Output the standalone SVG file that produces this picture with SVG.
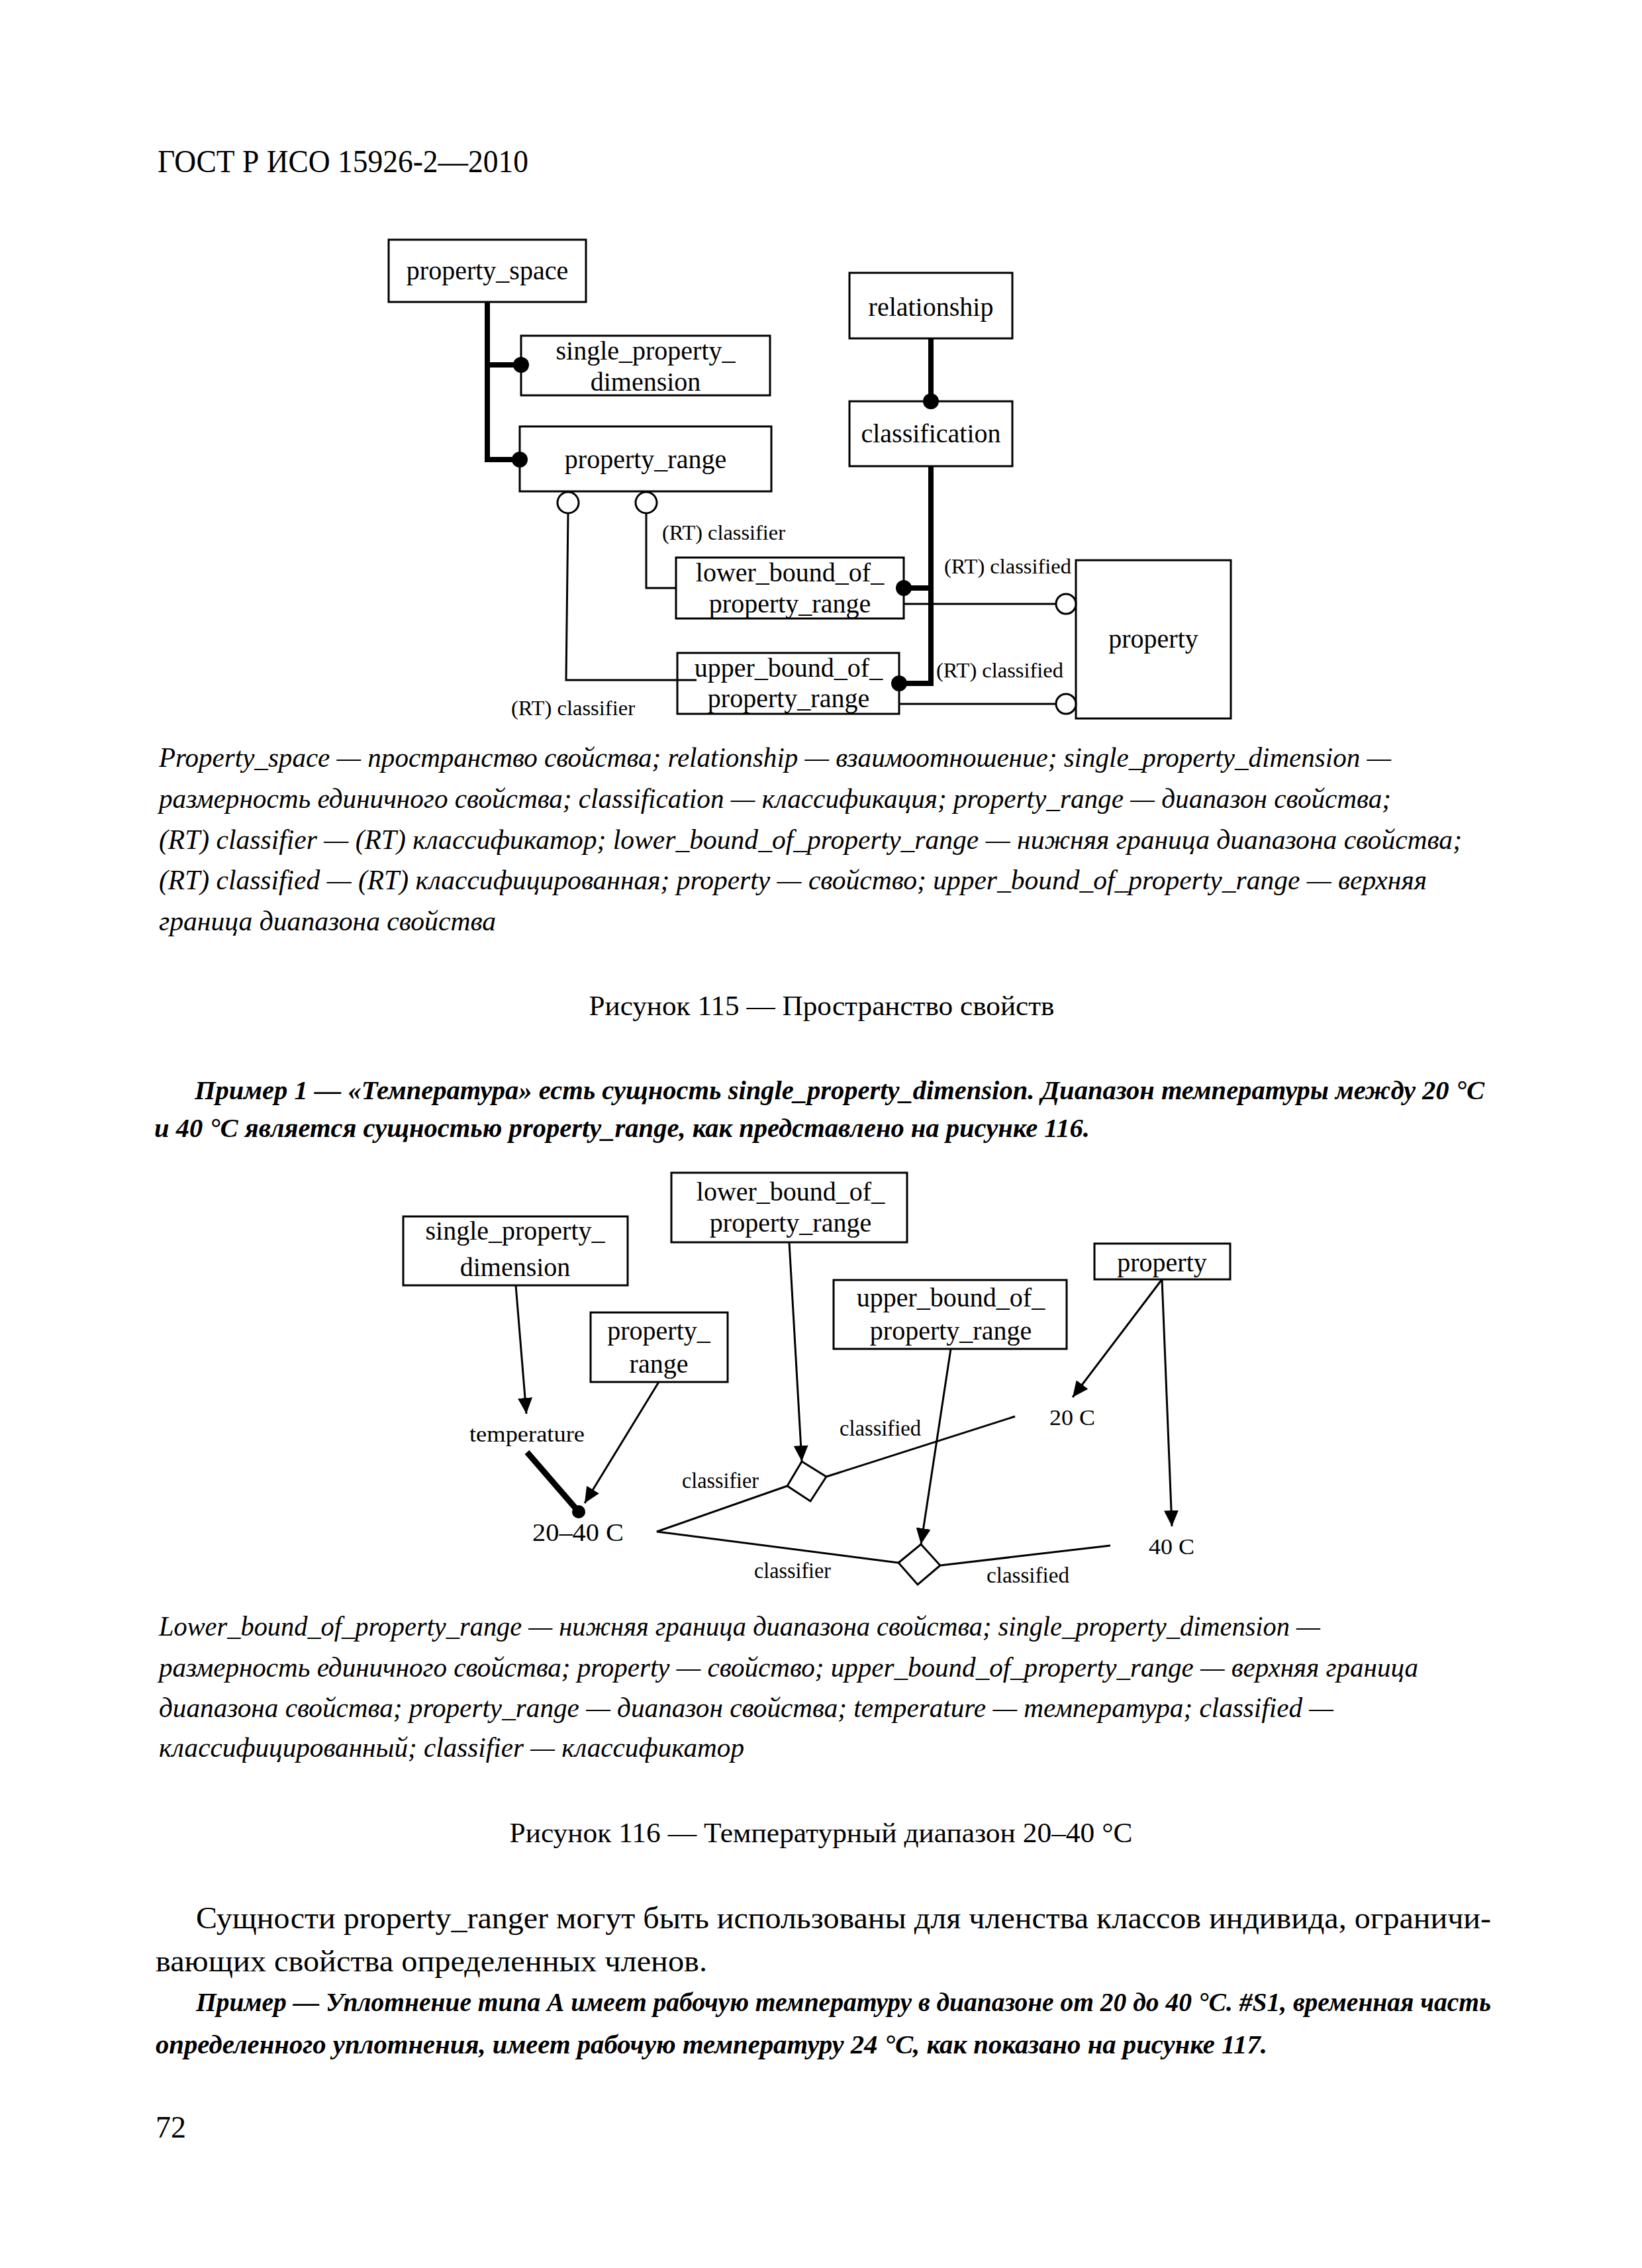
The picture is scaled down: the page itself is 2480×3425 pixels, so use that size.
<svg xmlns="http://www.w3.org/2000/svg" width="2480" height="3425" viewBox="0 0 2480 3425">
<style>
text{font-family:"Liberation Serif","Times New Roman",serif;fill:#000}
.n{font-size:40px;text-anchor:middle}
.l{font-size:32px}
.l2{font-size:34px}
.cap{font-size:42px;font-style:italic}
.ttl{font-size:42px;text-anchor:middle}
.ex{font-size:40px;font-style:italic;font-weight:bold}
.body{font-size:46px}
.box{fill:#fff;stroke:#000;stroke-width:3}
.thick{fill:none;stroke:#000;stroke-width:8}
.thin{fill:none;stroke:#000;stroke-width:3}
.dot{fill:#000}
.oc{fill:#fff;stroke:#000;stroke-width:3}
.arr{fill:none;stroke:#000;stroke-width:3;marker-end:url(#ah)}
</style>
<defs>
<marker id="ah" markerUnits="userSpaceOnUse" markerWidth="24" markerHeight="22" refX="24" refY="11" orient="auto" viewBox="0 0 24 22">
<path d="M0 0 L24 11 L0 22 z" fill="#000"/>
</marker>
</defs>
<rect width="2480" height="3425" fill="#fff"/>
<text x="238" y="260" font-size="48" textLength="560" lengthAdjust="spacingAndGlyphs">ГОСТ Р ИСО 15926-2—2010</text>

<!-- Figure 115 connectors -->
<g id="connectors115">
<path class="thick" d="M736 456 V694 H785"/>
<path class="thick" d="M736 551 H787"/>
<path class="thick" d="M1406 511 V606"/>
<path class="thick" d="M1406 704 V1032 H1358"/>
<path class="thick" d="M1365 888 H1406"/>
<path class="thin" d="M858 775 L855 1027 H1052"/>
<path class="thin" d="M976 775 V888 H1021"/>
<path class="thin" d="M1365 912 H1595"/>
<path class="thin" d="M1358 1063 H1595"/>
</g>
<g id="f115-property_space"><rect class="box" x="587" y="362" width="298" height="94"/><text class="n" x="736" y="422">property_space</text></g>
<g id="f115-relationship"><rect class="box" x="1283" y="412" width="246" height="99"/><text class="n" x="1406" y="477">relationship</text></g>
<g id="f115-single_property_dimension"><rect class="box" x="787" y="507" width="376" height="90"/><text class="n" x="975" y="543">single_property_</text><text class="n" x="975" y="590">dimension</text></g>
<g id="f115-classification"><rect class="box" x="1283" y="606" width="246" height="98"/><text class="n" x="1406" y="668">classification</text></g>
<g id="f115-property_range"><rect class="box" x="785" y="644" width="380" height="98"/><text class="n" x="975" y="707">property_range</text></g>
<g id="f115-lower_bound"><rect class="box" x="1021" y="842" width="344" height="92"/><text class="n" x="1193" y="878">lower_bound_of_</text><text class="n" x="1193" y="925">property_range</text></g>
<g id="f115-upper_bound"><rect class="box" x="1023" y="986" width="335" height="92"/><path class="thin" d="M1023 1027 H1052"/><text class="n" x="1191" y="1022">upper_bound_of_</text><text class="n" x="1191" y="1068">property_range</text></g>
<g id="f115-property"><rect class="box" x="1625" y="846" width="234" height="239"/><text class="n" x="1742" y="978">property</text></g>
<g id="f115-markers">
<circle class="dot" cx="787" cy="551" r="12"/>
<circle class="dot" cx="785" cy="694" r="12"/>
<circle class="dot" cx="1406" cy="606" r="12"/>
<circle class="dot" cx="1365" cy="888" r="12"/>
<circle class="dot" cx="1358" cy="1032" r="12"/>
<circle class="oc" cx="858" cy="759" r="16"/>
<circle class="oc" cx="976" cy="759" r="16"/>
<circle class="oc" cx="1610" cy="912" r="15"/>
<circle class="oc" cx="1610" cy="1063" r="15"/>
</g>
<g id="f115-labels">
<text class="l" x="1000" y="815" textLength="186" lengthAdjust="spacingAndGlyphs">(RT) classifier</text>
<text class="l" x="772" y="1080" textLength="187" lengthAdjust="spacingAndGlyphs">(RT) classifier</text>
<text class="l" x="1426" y="866" textLength="192" lengthAdjust="spacingAndGlyphs">(RT) classified</text>
<text class="l" x="1414" y="1023" textLength="192" lengthAdjust="spacingAndGlyphs">(RT) classified</text>
</g>

<g id="caption115">
<text class="cap" x="240" y="1158" textLength="1861" lengthAdjust="spacingAndGlyphs">Property_space — пространство свойства; relationship — взаимоотношение; single_property_dimension —</text>
<text class="cap" x="240" y="1220" textLength="1861" lengthAdjust="spacingAndGlyphs">размерность единичного свойства; classification — классификация; property_range — диапазон свойства;</text>
<text class="cap" x="240" y="1282" textLength="1968" lengthAdjust="spacingAndGlyphs">(RT) classifier — (RT) классификатор; lower_bound_of_property_range — нижняя граница диапазона свойства;</text>
<text class="cap" x="240" y="1343" textLength="1915" lengthAdjust="spacingAndGlyphs">(RT) classified — (RT) классифицированная; property — свойство; upper_bound_of_property_range — верхняя</text>
<text class="cap" x="240" y="1405" textLength="509" lengthAdjust="spacingAndGlyphs">граница диапазона свойства</text>
<text class="ttl" x="1241" y="1533" textLength="703" lengthAdjust="spacingAndGlyphs">Рисунок 115 — Пространство свойств</text>
</g>

<g id="example1">
<text class="ex" x="294" y="1660" textLength="1948" lengthAdjust="spacingAndGlyphs">Пример 1 — «Температура» есть сущность single_property_dimension. Диапазон температуры между 20 °С</text>
<text class="ex" x="233" y="1717" textLength="1413" lengthAdjust="spacingAndGlyphs">и 40 °С является сущностью property_range, как представлено на рисунке 116.</text>
</g>

<!-- Figure 116 -->
<g id="connectors116">
<path class="arr" d="M779 1941 L795 2135"/>
<path class="arr" d="M995 2087 L883 2270"/>
<path class="arr" d="M1192 1876 L1211 2207"/>
<path class="arr" d="M1436 2037 L1391 2332"/>
<path class="arr" d="M1755 1932 L1620 2110"/>
<path class="arr" d="M1755 1932 L1770 2305"/>
<path fill="none" stroke="#000" stroke-width="9" d="M796 2193 L874 2283"/>
<circle class="dot" cx="874" cy="2283" r="10"/>
<path class="thin" d="M1189 2244 L992 2313 L1357 2360"/>
<path class="thin" d="M1248 2230 L1533 2139"/>
<path class="thin" d="M1420 2364 L1677 2334"/>
</g>
<g id="f116-single_property_dimension"><rect class="box" x="609" y="1837" width="339" height="104"/><text class="n" x="778" y="1872">single_property_</text><text class="n" x="778" y="1927">dimension</text></g>
<g id="f116-property_range"><rect class="box" x="892" y="1982" width="207" height="105"/><text class="n" x="995" y="2023">property_</text><text class="n" x="995" y="2073">range</text></g>
<g id="f116-lower_bound"><rect class="box" x="1014" y="1771" width="356" height="105"/><text class="n" x="1194" y="1813">lower_bound_of_</text><text class="n" x="1194" y="1860">property_range</text></g>
<g id="f116-upper_bound"><rect class="box" x="1259" y="1933" width="352" height="104"/><text class="n" x="1436" y="1973">upper_bound_of_</text><text class="n" x="1436" y="2023">property_range</text></g>
<g id="f116-property"><rect class="box" x="1653" y="1878" width="205" height="54"/><text class="n" x="1755" y="1920">property</text></g>
<g id="f116-diamond1"><polygon class="oc" points="1189,2244 1211,2207 1248,2230 1224,2267"/></g>
<g id="f116-diamond2"><polygon class="oc" points="1357,2360 1391,2332 1420,2364 1386,2393"/></g>
<g id="f116-labels">
<text class="l2" x="709" y="2177" textLength="174" lengthAdjust="spacingAndGlyphs">temperature</text>
<text font-size="38" x="804" y="2327" textLength="138" lengthAdjust="spacingAndGlyphs">20–40 C</text>
<text class="l2" x="1585" y="2152" textLength="69" lengthAdjust="spacingAndGlyphs">20 C</text>
<text class="l2" x="1735" y="2347" textLength="69" lengthAdjust="spacingAndGlyphs">40 C</text>
<text class="l2" x="1030" y="2247" textLength="116" lengthAdjust="spacingAndGlyphs">classifier</text>
<text class="l2" x="1139" y="2383" textLength="116" lengthAdjust="spacingAndGlyphs">classifier</text>
<text class="l2" x="1268" y="2168" textLength="123" lengthAdjust="spacingAndGlyphs">classified</text>
<text class="l2" x="1490" y="2390" textLength="125" lengthAdjust="spacingAndGlyphs">classified</text>
</g>

<g id="caption116">
<text class="cap" x="240" y="2470" textLength="1754" lengthAdjust="spacingAndGlyphs">Lower_bound_of_property_range — нижняя граница диапазона свойства; single_property_dimension —</text>
<text class="cap" x="240" y="2532" textLength="1902" lengthAdjust="spacingAndGlyphs">размерность единичного свойства; property — свойство; upper_bound_of_property_range — верхняя граница</text>
<text class="cap" x="240" y="2593" textLength="1774" lengthAdjust="spacingAndGlyphs">диапазона свойства; property_range — диапазон свойства; temperature — температура; classified —</text>
<text class="cap" x="240" y="2653" textLength="884" lengthAdjust="spacingAndGlyphs">классифицированный; classifier — классификатор</text>
<text class="ttl" x="1240" y="2782" textLength="941" lengthAdjust="spacingAndGlyphs">Рисунок 116 — Температурный диапазон 20–40 °С</text>
</g>

<g id="bodytext">
<text class="body" x="296" y="2912" textLength="1956" lengthAdjust="spacingAndGlyphs">Сущности property_ranger могут быть использованы для членства классов индивида, ограничи-</text>
<text class="body" x="235" y="2977" textLength="833" lengthAdjust="spacingAndGlyphs">вающих свойства определенных членов.</text>
<text class="ex" x="296" y="3037" textLength="1956" lengthAdjust="spacingAndGlyphs">Пример — Уплотнение типа А имеет рабочую температуру в диапазоне от 20 до 40 °С. #S1, временная часть</text>
<text class="ex" x="235" y="3101" textLength="1679" lengthAdjust="spacingAndGlyphs">определенного уплотнения, имеет рабочую температуру 24 °С, как показано на рисунке 117.</text>
<text class="body" x="235" y="3228">72</text>
</g>
</svg>
